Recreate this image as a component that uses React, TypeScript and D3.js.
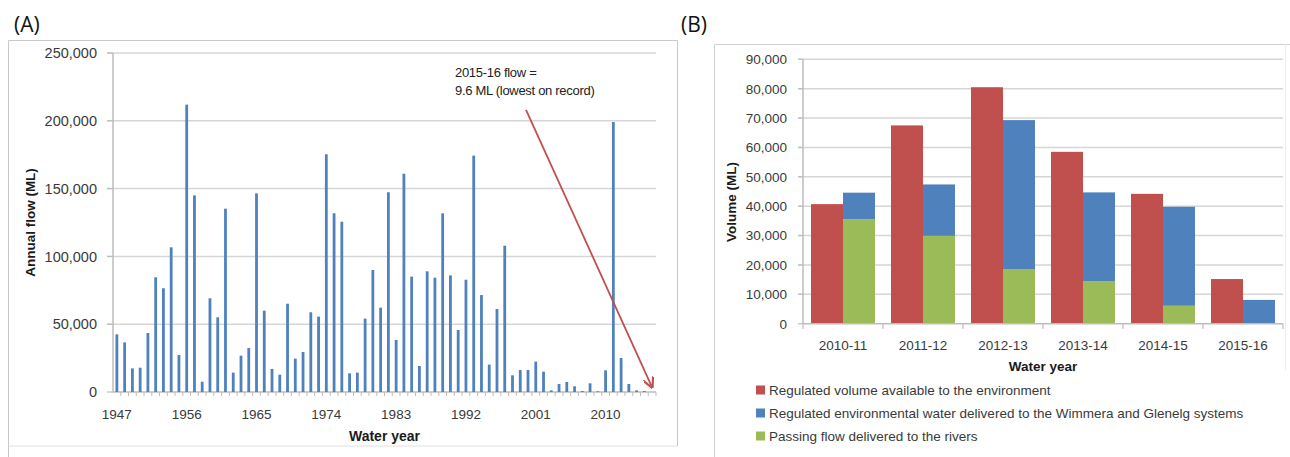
import React from "react";
import * as d3 from "d3";

// ---------- Panel A data ----------
const yearsA: string[] = [];
for (let y = 1947; y <= 2016; y++) yearsA.push(String(y));
const flowA: number[] = [
  42500, 36600, 17400, 17900, 43500, 84600, 76500, 106700, 27300, 211900,
  145000, 7600, 69100, 55100, 135200, 14300, 26800, 32400, 146500, 60000,
  17000, 12800, 65100, 24600, 29500, 58800, 55600, 175300, 131800, 125600,
  13800, 14300, 54100, 90000, 62200, 147300, 38400, 161000, 85100, 19200,
  89000, 84300, 131800, 86000, 45700, 82800, 174300, 71500, 20200, 61200,
  107900, 12300, 16200, 16200, 22400, 15000, 1200, 5900, 7400, 4200,
  700, 6400, 500, 16000, 199100, 25100, 5900, 1200, 700, 9.6,
];
const tickYearsA = ["1947", "1956", "1965", "1974", "1983", "1992", "2001", "2010"];
const yTicksA = [0, 50000, 100000, 150000, 200000, 250000];

// ---------- Panel B data ----------
const catsB = ["2010-11", "2011-12", "2012-13", "2013-14", "2014-15", "2015-16"];
const regulatedB = [40700, 67500, 80500, 58500, 44200, 15200];
const passingB = [35600, 29900, 18600, 14400, 6100, 0];
const deliveredExtraB = [9000, 17500, 50700, 30300, 33700, 8100];
const yTicksB = [0, 10000, 20000, 30000, 40000, 50000, 60000, 70000, 80000, 90000];
const legendB = [
  "Regulated volume available to the environment",
  "Regulated environmental water delivered to the Wimmera and Glenelg systems",
  "Passing flow delivered to the rivers",
];

const RED = "#c0504d";
const BLUE = "#4f81bd";
const GREEN = "#9bbb59";
const GRID = "#d6d6d6";
const AXIS = "#bdbdbd";
const TXT = "#3a3a3a";
const FONT = "'Liberation Sans', Arial, sans-serif";
const fmt = d3.format(",");

export default function App() {
  // Panel A scales
  const xA = d3.scaleBand<string>().domain(yearsA).range([113, 656]).paddingInner(0.64).paddingOuter(0.32);
  const yA = d3.scaleLinear().domain([0, 250000]).range([392, 53]);
  const stepA = xA.step();

  // Panel B scales
  const x0 = d3.scaleBand<string>().domain(catsB).range([803, 1283]).paddingInner(0.2).paddingOuter(0.1);
  const x1 = d3.scaleBand<string>().domain(["reg", "del"]).range([0, x0.bandwidth()]);
  const yB = d3.scaleLinear().domain([0, 90000]).range([323.7, 59.3]);
  const stepB = x0.step();

  const stackRows = catsB.map((c, i) => ({ cat: c, passing: passingB[i], delivered: deliveredExtraB[i] }));
  const stacked = d3.stack<any>().keys(["passing", "delivered"])(stackRows);

  // arrow annotation (data-space)
  const arrowFrom = { year: "2000", value: 208000 };
  const arrowTo = { year: "2016", value: 3500 };
  const ax1 = (xA(arrowFrom.year) as number) + xA.bandwidth() / 2 - 2;
  const ay1 = yA(arrowFrom.value);
  const ax2 = (xA(arrowTo.year) as number) + xA.bandwidth() / 2;
  const ay2 = yA(arrowTo.value);

  return (
    <svg width={1290} height={457} style={{ position: "absolute", left: 0, top: 0, background: "#fff" }} fontFamily={FONT}>
      <defs>
        <marker id="arr" viewBox="0 0 10 10" refX="9" refY="5" markerWidth="6" markerHeight="6" orient="auto-start-reverse">
          <path d="M0,0 L10,5 L0,10" fill="none" stroke={RED} strokeWidth={2} />
        </marker>
      </defs>
      <rect x={0} y={0} width={1290} height={457} fill="#fff" />

      {/* ===== Panel A ===== */}
      <text x={14} y={32} fontFamily="'Open Sans', 'Noto Sans', sans-serif" fontSize={21} fill="#111">(A)</text>
      <path d="M8.5,457 L8.5,40.5 L677.5,40.5 L677.5,446" fill="none" stroke="#c8c8c8" strokeWidth={1} />
      <line x1={8.5} x2={677.5} y1={446} y2={446} stroke="#e0e0e0" />

      {yTicksA.map((t) => (
        <g key={"ga" + t}>
          {t > 0 && <line x1={107} x2={656} y1={yA(t)} y2={yA(t)} stroke={GRID} strokeWidth={1.5} />}
          <line x1={107} x2={113} y1={yA(t)} y2={yA(t)} stroke={AXIS} strokeWidth={1.2} />
          <text x={97} y={yA(t)} dy="0.36em" textAnchor="end" fontSize={14.5} fill={TXT}>{fmt(t)}</text>
        </g>
      ))}
      <line x1={113} x2={113} y1={53} y2={392} stroke={AXIS} strokeWidth={1.5} />
      <line x1={113} x2={656} y1={392} y2={392} stroke={AXIS} strokeWidth={1.5} />
      {yearsA.map((yr, i) => (
        <line key={"ta" + yr} x1={113 + i * stepA + stepA} x2={113 + i * stepA + stepA} y1={392} y2={396} stroke={AXIS} strokeWidth={1} />
      ))}
      {yearsA.map((yr, i) => (
        <rect key={"ba" + yr} x={xA(yr)} y={yA(flowA[i])} width={xA.bandwidth()} height={392 - yA(flowA[i])} fill={BLUE} />
      ))}
      {tickYearsA.map((yr) => (
        <text key={"xl" + yr} x={(xA(yr) as number) + xA.bandwidth() / 2} y={418.5} textAnchor="middle" fontSize={13.5} fill={TXT}>{yr}</text>
      ))}
      <text x={384.5} y={441} textAnchor="middle" fontSize={14} fontWeight="bold" fill="#1a1a1a">Water year</text>
      <text transform="translate(35,222.5) rotate(-90)" textAnchor="middle" fontSize={13.5} fontWeight="bold" fill="#1a1a1a">Annual flow (ML)</text>

      <text x={455} y={77} fontSize={13} fill="#222" letterSpacing={-0.3}>2015-16 flow =</text>
      <text x={455} y={95} fontSize={13} fill="#222" letterSpacing={-0.3}>9.6 ML (lowest on record)</text>
      <line x1={ax1} y1={ay1} x2={ax2} y2={ay2} stroke={RED} strokeWidth={1.8} markerEnd="url(#arr)" />

      {/* ===== Panel B ===== */}
      <text x={681} y={32} fontFamily="'Open Sans', 'Noto Sans', sans-serif" fontSize={21} fill="#111">(B)</text>
      <path d="M714.5,457 L714.5,44.5 L1290,44.5" fill="none" stroke="#d0d0d0" strokeWidth={1} />
      <line x1={1285.5} x2={1285.5} y1={44} y2={370} stroke="#eeeeee" />

      {yTicksB.map((t) => (
        <g key={"gb" + t}>
          {t > 0 && <line x1={798} x2={1283} y1={yB(t)} y2={yB(t)} stroke={GRID} strokeWidth={1.5} />}
          <line x1={798} x2={803} y1={yB(t)} y2={yB(t)} stroke={AXIS} strokeWidth={1.2} />
          <text x={787} y={yB(t)} dy="0.36em" textAnchor="end" fontSize={13.5} fill={TXT}>{fmt(t)}</text>
        </g>
      ))}
      <line x1={803} x2={803} y1={59.3} y2={323.7} stroke={AXIS} strokeWidth={1.5} />

      {catsB.map((c, i) => (
        <rect key={"rb" + c} x={(x0(c) as number) + (x1("reg") as number)} y={yB(regulatedB[i])} width={x1.bandwidth()} height={yB(0) - yB(regulatedB[i])} fill={RED} />
      ))}
      {stacked.map((layer, li) => (
        <g key={"st" + li} fill={li === 0 ? GREEN : BLUE}>
          {layer.map((d: any, i: number) => (
            <rect key={i} x={(x0(catsB[i]) as number) + (x1("del") as number)} y={yB(d[1])} width={x1.bandwidth()} height={Math.max(0, yB(d[0]) - yB(d[1]))} />
          ))}
        </g>
      ))}
      <line x1={803} x2={1283} y1={323.7} y2={323.7} stroke={AXIS} strokeWidth={1.5} />
      {d3.range(catsB.length + 1).map((i) => (
        <line key={"tb" + i} x1={803 + i * stepB} x2={803 + i * stepB} y1={323.7} y2={329} stroke={AXIS} strokeWidth={1.2} />
      ))}
      {catsB.map((c) => (
        <text key={"xb" + c} x={(x0(c) as number) + x0.bandwidth() / 2} y={350} textAnchor="middle" fontSize={13.5} fill={TXT}>{c}</text>
      ))}
      <text x={1043} y={370.5} textAnchor="middle" fontSize={13.5} fontWeight="bold" fill="#1a1a1a">Water year</text>
      <text transform="translate(736,202) rotate(-90)" textAnchor="middle" fontSize={13.5} fontWeight="bold" fill="#1a1a1a">Volume (ML)</text>

      {legendB.map((l, i) => (
        <g key={"lg" + i}>
          <rect x={756} y={385.5 + i * 23} width={9} height={9} fill={[RED, BLUE, GREEN][i]} />
          <text x={769} y={390 + i * 23} dy="0.36em" fontSize={13.5} fill={TXT}>{l}</text>
        </g>
      ))}
    </svg>
  );
}
